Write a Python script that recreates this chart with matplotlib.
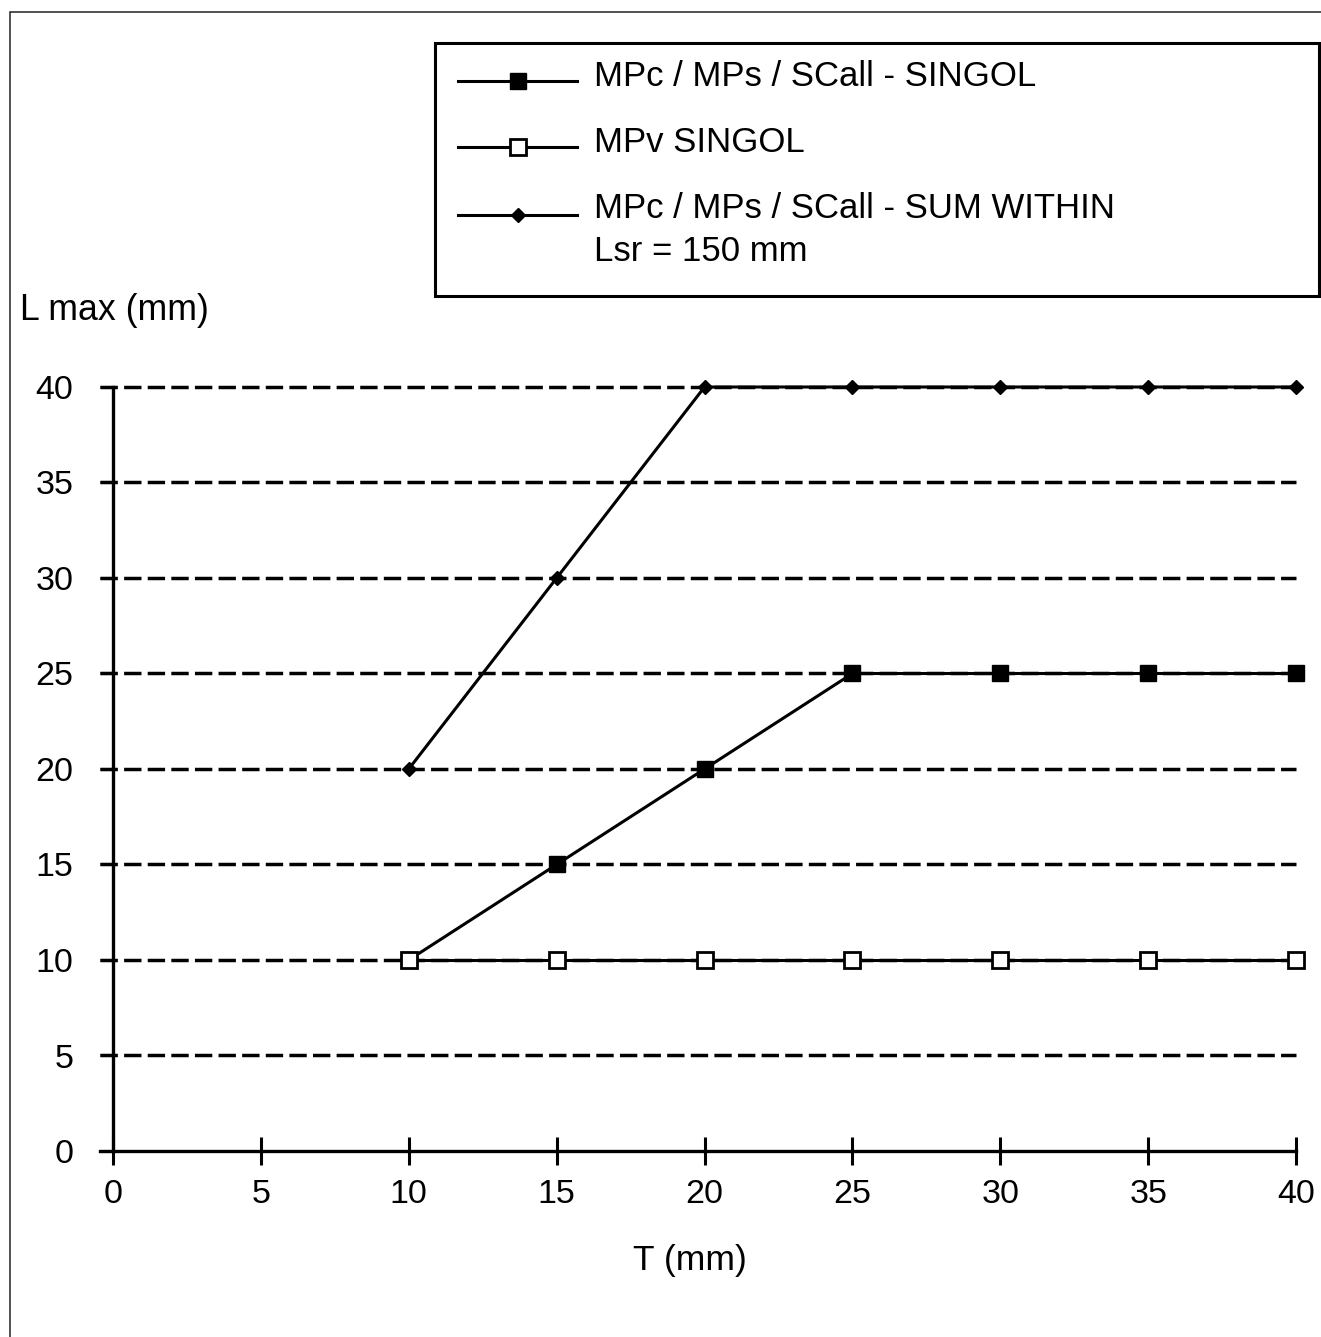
import matplotlib
matplotlib.use("Agg")
import matplotlib.pyplot as plt
from matplotlib.patches import Rectangle
from matplotlib.legend_handler import HandlerLine2D

plt.rcParams['font.family'] = ['Liberation Sans', 'DejaVu Sans']
plt.rcParams['lines.scale_dashes'] = False

# data
T = [10, 15, 20, 25, 30, 35, 40]
singol = [10, 15, 20, 25, 25, 25, 25]
mpv_singol = [10, 10, 10, 10, 10, 10, 10]
sum_within = [20, 30, 40, 40, 40, 40, 40]
grid_levels = [5, 10, 15, 20, 25, 30, 35, 40]
xticks = [0, 5, 10, 15, 20, 25, 30, 35, 40]
yticks = [0, 5, 10, 15, 20, 25, 30, 35, 40]

labels = ["MPc / MPs / SCall - SINGOL",
          "MPv SINGOL",
          "MPc / MPs / SCall - SUM WITHIN\nLsr = 150 mm"]


class ShiftedLine(HandlerLine2D):
    # legend handle moved up/down by dy (in font sizes)
    def __init__(self, dy, **kw):
        super().__init__(**kw)
        self.dy = dy

    def create_artists(self, legend, orig_handle, xdescent, ydescent,
                       width, height, fontsize, trans):
        return super().create_artists(legend, orig_handle, xdescent,
                                      ydescent - 2 * self.dy * fontsize,
                                      width, height, fontsize, trans)


W, H = 1321, 1337
fig = plt.figure(figsize=(W / 100, H / 100), dpi=100)
ax = fig.add_axes([83.4 / W, 1 - 1170.1 / H, 1227.5 / W, 802.2 / H])
ax.set_xlim(-1, 40.5)
ax.set_ylim(-1, 41)

# dashed horizontal guide lines
ax.hlines(grid_levels, -0.45, 40, colors='black', linewidth=2.5,
          linestyles=[(0, (12.5, 4.5))], zorder=1)

l1, = ax.plot(T, singol, color='black', lw=2.2, marker='s', ms=12,
              mfc='black', mec='black', mew=1, zorder=3, clip_on=False)
l2, = ax.plot(T, mpv_singol, color='black', lw=2.2, marker='s', ms=11.5,
              mfc='white', mec='black', mew=2, zorder=4, clip_on=False)
l3, = ax.plot(T, sum_within, color='black', lw=2.2, marker='D', ms=7.5,
              mfc='black', mec='black', mew=1, zorder=3, clip_on=False)

for s in ['top', 'right']:
    ax.spines[s].set_visible(False)
ax.spines['left'].set_position(('data', 0))
ax.spines['bottom'].set_position(('data', 0))
ax.spines['left'].set_bounds(0, 40)
ax.spines['bottom'].set_bounds(-0.45, 40)
ax.spines['left'].set_linewidth(2.4)
ax.spines['bottom'].set_linewidth(2.4)

ax.set_xticks(xticks)
ax.set_yticks(yticks)
ax.tick_params(axis='x', direction='inout', length=20, width=2.2,
               labelsize=24.5, pad=10)
ax.tick_params(axis='y', direction='out', length=9.4, width=2.2,
               labelsize=24.5, pad=19)

ax.set_xlabel("T (mm)", fontsize=25.5, va='center')
ax.xaxis.set_label_coords((690 - 83.4) / 1227.5, -90 / 802.2)
ax.set_ylabel("L max (mm)", fontsize=25.7, rotation=0, ha='left', va='center')
ax.yaxis.set_label_coords((20 - 83.4) / 1227.5, (1170.1 - 311) / 802.2)

# legend
leg = fig.legend([l1, l2, l3], labels, loc='upper left',
                 bbox_to_anchor=(458 / W, 1 - 60 / H),
                 frameon=False, borderpad=0, borderaxespad=0,
                 fontsize=25, handlelength=3.43, handletextpad=0.48,
                 labelspacing=0.95,
                 handler_map={l1: ShiftedLine(-0.2),
                              l2: ShiftedLine(-0.2),
                              l3: ShiftedLine(0.46)})
for t in leg.get_texts():
    t.set_linespacing(1.4)

fig.add_artist(Rectangle((435 / W, 1 - 296 / H), (1319 - 435) / W, (296 - 43) / H,
                         transform=fig.transFigure, fill=False,
                         edgecolor='black', linewidth=2.2))
# outer frame of the picture
fig.add_artist(Rectangle((10 / W, -0.05), 1.1, 1 - 12 / H + 0.05,
                         transform=fig.transFigure, fill=False,
                         edgecolor='#222222', linewidth=1.1))

fig.savefig("out.png", dpi=100)
